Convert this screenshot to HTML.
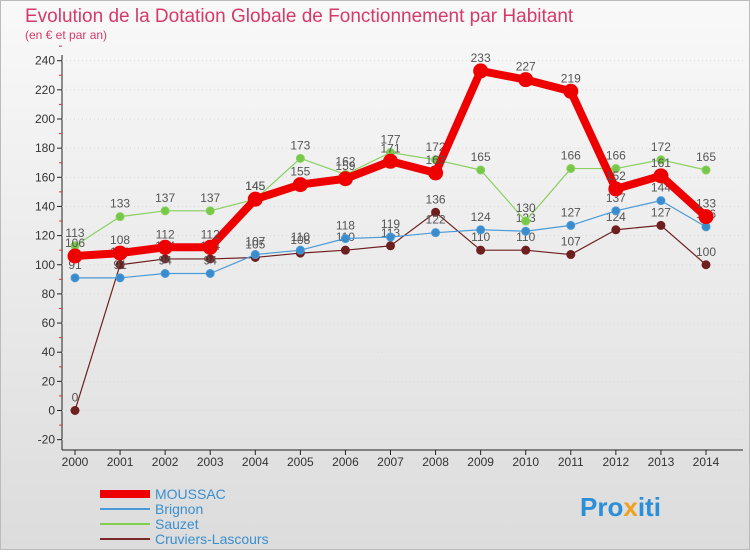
<!DOCTYPE html>
<html><head><meta charset="utf-8"><style>
body{margin:0;width:750px;height:550px;overflow:hidden;font-family:"Liberation Sans",sans-serif;}
</style></head><body>
<svg width="750" height="550" xmlns="http://www.w3.org/2000/svg">
<defs>
<linearGradient id="bg" x1="0" y1="0" x2="0" y2="1"><stop offset="0" stop-color="#f9f9f9"/><stop offset="1" stop-color="#dcdcdc"/></linearGradient>
<linearGradient id="pl" x1="0" y1="0" x2="0" y2="1"><stop offset="0" stop-color="#f6f6f6"/><stop offset="1" stop-color="#e2e2e2"/></linearGradient>
</defs>
<rect x="0" y="0" width="750" height="550" fill="url(#bg)"/>
<rect x="0.5" y="0.5" width="749" height="549" fill="none" stroke="#bbb"/>
<rect x="63" y="55" width="680" height="395" fill="url(#pl)"/>
<text x="25" y="22" font-size="19" fill="#d63a6a">Evolution de la Dotation Globale de Fonctionnement par Habitant</text>
<text x="25" y="39" font-size="12" fill="#d63a6a">(en € et par an)</text>
<g id="axes"></g>
<g id="series"></g>
<g id="legend" font-size="14">
<line x1="100" y1="494" x2="150" y2="494" stroke="#ee0000" stroke-width="8"/>
<text x="155" y="499" fill="#3a8fd0">MOUSSAC</text>
<line x1="100" y1="509" x2="150" y2="509" stroke="#4a9ad8" stroke-width="2"/>
<text x="155" y="514" fill="#3a8fd0">Brignon</text>
<line x1="100" y1="524" x2="150" y2="524" stroke="#80d050" stroke-width="2"/>
<text x="155" y="529" fill="#3a8fd0">Sauzet</text>
<line x1="100" y1="539" x2="150" y2="539" stroke="#7a2a2a" stroke-width="2"/>
<text x="155" y="544" fill="#3a8fd0">Cruviers-Lascours</text>
</g>
<text x="580" y="516" font-size="26" font-weight="bold" fill="#2a8fd8">Pro<tspan fill="#f0a020">x</tspan>iti</text>
</svg>
<script>
const years=[2000,2001,2002,2003,2004,2005,2006,2007,2008,2009,2010,2011,2012,2013,2014];
const yTicks=[-20,0,20,40,60,80,100,120,140,160,180,200,220,240];
const moussac=[106,108,112,112,145,155,159,171,163,233,227,219,152,161,133];
const brignon=[91,91,94,94,107,110,118,119,122,124,123,127,137,144,126];
const sauzet=[113,133,137,137,145,173,162,177,172,165,130,166,166,172,165];
const cruviers=[0,100,104,104,105,108,110,113,136,110,110,107,124,127,100];
const NS="http://www.w3.org/2000/svg";
function X(i){return 75+i*(706-75)/14;}
function Y(v){return 410.5-v*(29.15/20);}
function mk(t,a,p){const e=document.createElementNS(NS,t);for(const k in a)e.setAttribute(k,a[k]);(p||document.getElementById('series')).appendChild(e);return e;}
const ax=document.getElementById('axes');
const yl=mk('line',{x1:62,y1:55,x2:62,y2:450,stroke:'#222'},ax);


const xl=mk('line',{x1:62,y1:450,x2:743,y2:450,stroke:'#222'},ax);


yTicks.forEach(v=>{
 mk('line',{x1:62,y1:Y(v),x2:743,y2:Y(v),stroke:'#d8d8d8','stroke-dasharray':'1,3'},ax);
 mk('line',{x1:57,y1:Y(v),x2:62,y2:Y(v),stroke:'#222'},ax);
 mk('line',{x1:59,y1:Y(v+10),x2:62,y2:Y(v+10),stroke:'#d33'},ax);
 const t=mk('text',{x:55,y:Y(v)+4,'text-anchor':'end','font-size':12,fill:'#333'},ax);
 t.textContent=v;
 
 
});
years.forEach((yr,i)=>{
 mk('line',{x1:X(i),y1:450,x2:X(i),y2:455,stroke:'#222'},ax);
 const t=mk('text',{x:X(i),y:466,'text-anchor':'middle','font-size':12,fill:'#333'},ax);
 t.textContent=yr;
 
 
});
function series(d,col,w,r,name,dot){
 const p=mk('polyline',{points:d.map((v,i)=>X(i)+','+Y(v)).join(' '),fill:'none',stroke:col,'stroke-width':w,'stroke-linejoin':'round'});
 
 
 d.forEach((v,i)=>{
  const c=mk('circle',{cx:X(i),cy:Y(v),r:r,fill:dot,stroke:col,'stroke-width':1});
  
  
  const t=mk('text',{x:X(i),y:Y(v)-9,'text-anchor':'middle','font-size':12,fill:'#555'});
  t.textContent=v;
  
  
 });
}
series(cruviers,'#6e1f1f',1.2,4,'cruviers','#6e1f1f');
series(brignon,'#4a9ad8',1.2,4,'brignon','#3a8ccc');
series(sauzet,'#88d060',1.2,4,'sauzet','#78c848');
series(moussac,'#ee0000',8,7,'moussac','#ee0000');
</script>
</body></html>
